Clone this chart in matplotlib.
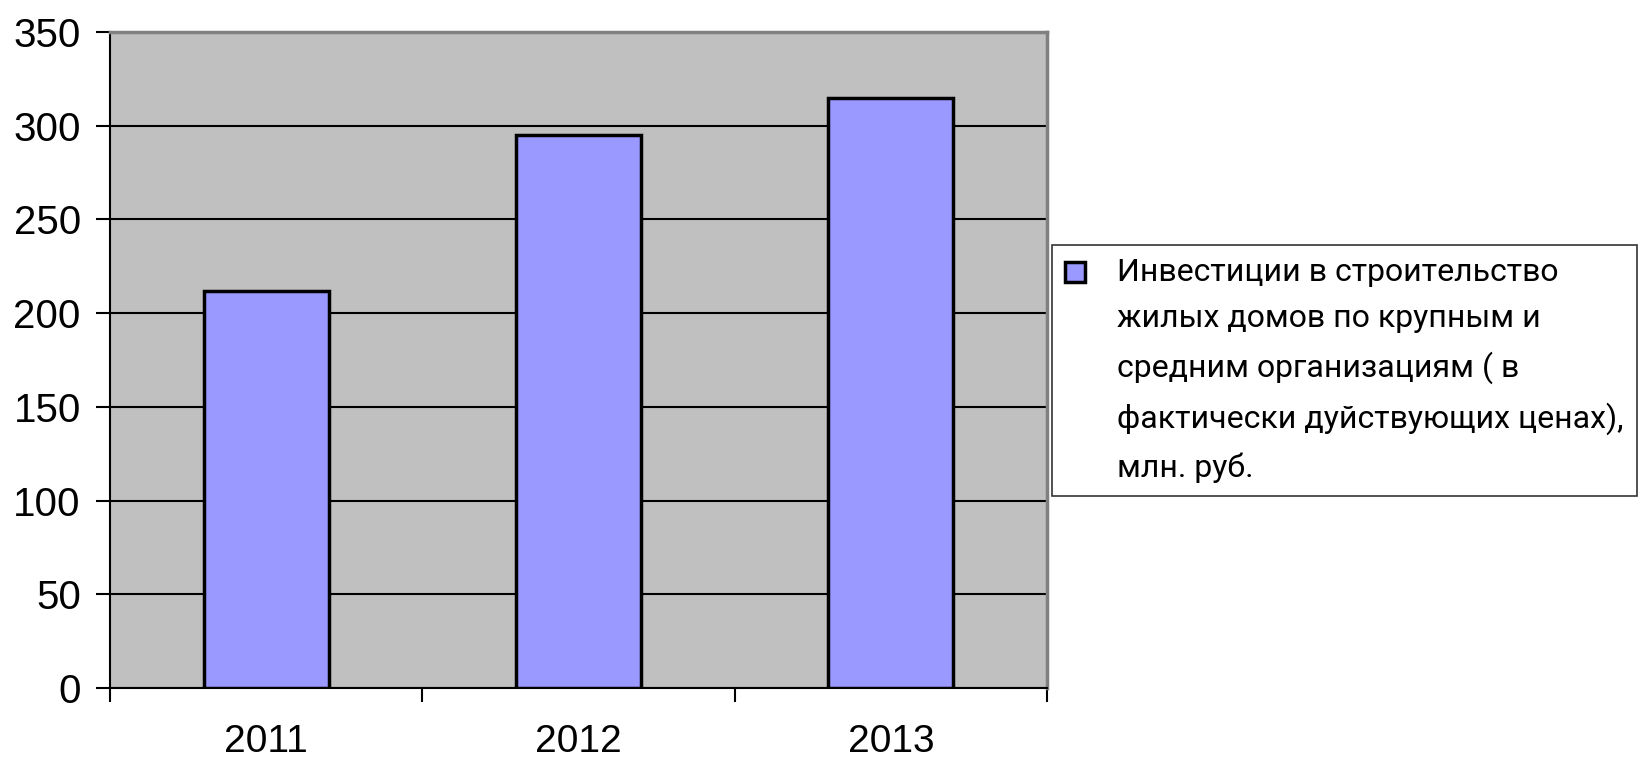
import matplotlib
matplotlib.use("Agg")
import matplotlib.pyplot as plt
from matplotlib.legend_handler import HandlerPatch, update_from_first_child
from matplotlib.container import BarContainer
from matplotlib.patches import Rectangle
import numpy as np

# data
years = ["2011", "2012", "2013"]
investments = [212, 295, 315]
series_label = ("Инвестиции в строительство\n"
                "жилых домов по крупным и\n"
                "средним организациям ( в\n"
                "фактически дуйствующих ценах),\n"
                "млн. руб.")
y_ticks = [0, 50, 100, 150, 200, 250, 300, 350]

W, H, DPI = 1640, 763, 100
fig = plt.figure(figsize=(W / DPI, H / DPI), dpi=DPI)
fig.patch.set_facecolor("white")

# plot area in pixels: left 110, right 1047, top 32, bottom 688
ax = fig.add_axes([110 / W, (H - 688) / H, (1047 - 110) / W, (688 - 32) / H])
ax.set_facecolor("#C0C0C0")

x = np.arange(len(years))
ax.set_axisbelow(True)
ax.grid(axis="y", color="black", linewidth=1.5)
ax.bar(x, investments, width=0.4, color="#9999FF", edgecolor="black",
       linewidth=2.5, label=series_label, zorder=3)

ax.set_xlim(-0.5, len(years) - 0.5)
ax.set_ylim(0, 350)
ax.set_yticks(y_ticks)
ax.set_xticks(x)
ax.set_xticklabels(years)
ax.set_xticks(np.arange(len(years) + 1) - 0.5, minor=True)

for lab in ax.get_yticklabels():
    lab.set_fontfamily("Liberation Sans")
    lab.set_fontsize(29)
for lab in ax.get_xticklabels():
    lab.set_fontfamily("Liberation Sans")
    lab.set_fontsize(28)

ax.tick_params(axis="y", which="major", direction="out", length=10,
               width=1.5, pad=11, colors="black")
ax.tick_params(axis="x", which="major", length=0, pad=26)
ax.tick_params(axis="x", which="minor", direction="out", length=10, width=1.5)

ax.spines["left"].set_color("black")
ax.spines["left"].set_linewidth(1.5)
ax.spines["bottom"].set_color("black")
ax.spines["bottom"].set_linewidth(1.5)
ax.spines["top"].set_color("#808080")
ax.spines["top"].set_linewidth(2.5)
ax.spines["right"].set_color("#808080")
ax.spines["right"].set_linewidth(2.5)

leg_fs = 23
leg_ls = 1.72


# legend square sits next to the first line of the wrapped label
# (legend text baseline is the middle of the 5-line block)
def top_square(legend, orig_handle, xdescent, ydescent, width, height, fontsize):
    s = 0.62 * fontsize
    step = 0.813 * fontsize * leg_ls
    top = 2 * step + 0.96 * fontsize
    return Rectangle((-xdescent, top - s), s, s)


leg = ax.legend(loc="upper left", bbox_to_anchor=(1052 / W, 1 - 245 / H),
                bbox_transform=fig.transFigure, frameon=True, fancybox=False,
                prop=dict(family="Roboto", size=leg_fs), handlelength=0.62,
                handleheight=2.0, handletextpad=1.0, borderpad=0.42,
                borderaxespad=0,
                handler_map={BarContainer: HandlerPatch(
                    patch_func=top_square, update_func=update_from_first_child)})
leg.get_frame().set_edgecolor("black")
leg.get_frame().set_linewidth(1.2)
for t in leg.get_texts():
    t.set_linespacing(leg_ls)
for h in leg.legend_handles:
    h.set_linewidth(2.5)

fig.savefig("out.png", dpi=DPI, facecolor="white")
